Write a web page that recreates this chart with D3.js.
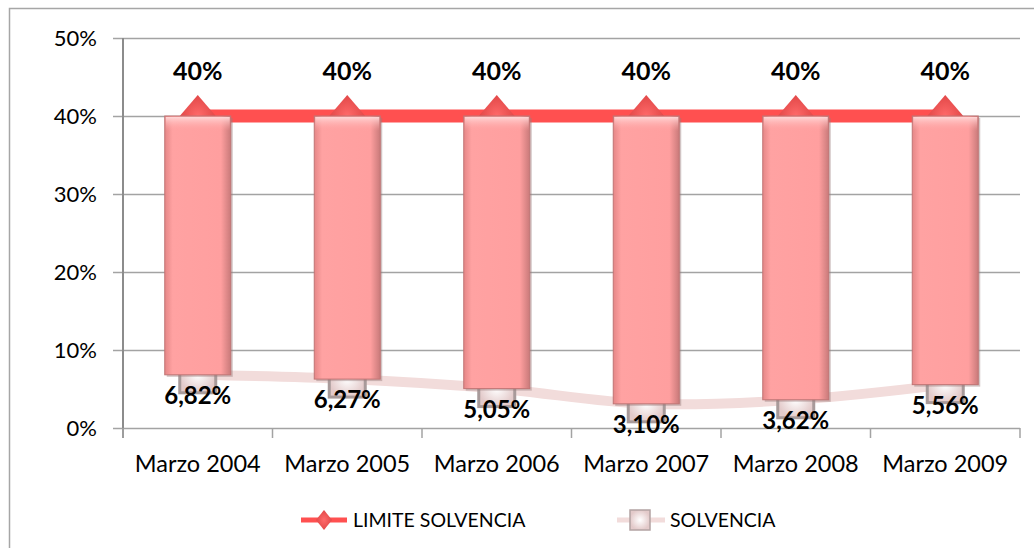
<!DOCTYPE html>
<html>
<head>
<meta charset="utf-8">
<script src="https://cdn.jsdelivr.net/npm/d3@7"></script>
<style>
  body { margin: 0; background: #fff; }
  svg text { font-family: Lato, "Open Sans", sans-serif; }
</style>
</head>
<body>
<svg id="chart" width="1034" height="548"></svg>
<script>
// data
var categories = ["Marzo 2004", "Marzo 2005", "Marzo 2006", "Marzo 2007", "Marzo 2008", "Marzo 2009"];
var limite = [0.40, 0.40, 0.40, 0.40, 0.40, 0.40];
var solvencia = [0.0682, 0.0627, 0.0505, 0.0310, 0.0362, 0.0556];
var yTicks = [0, 0.1, 0.2, 0.3, 0.4, 0.5];
var seriesNames = ["LIMITE SOLVENCIA", "SOLVENCIA"];

var svg = d3.select("svg#chart");
var locale = d3.formatLocale({decimal: ",", thousands: ".", grouping: [3], currency: ["", "€"]});
var fmt2 = locale.format(".2%"),
    fmt0 = locale.format(".0%");

// plot area
var plotLeft = 123, plotRight = 1020, plotTop = 38, plotBottom = 428;
var x = d3.scaleBand().domain(categories).range([plotLeft, plotRight]);
var y = d3.scaleLinear().domain([0, 0.5]).range([plotBottom, plotTop]);
var cx = function(d, i) { return x(categories[i]) + x.bandwidth() / 2; };
var barW = 66;

// gradients
var defs = svg.append("defs");
var gBar = defs.append("linearGradient").attr("id", "barGrad");
gBar.append("stop").attr("offset", "0%").attr("stop-color", "#e58787");
gBar.append("stop").attr("offset", "12%").attr("stop-color", "#ffa2a2");
gBar.append("stop").attr("offset", "85%").attr("stop-color", "#ff9f9f");
gBar.append("stop").attr("offset", "100%").attr("stop-color", "#c97a7a");
var gTop = defs.append("linearGradient").attr("id", "topGrad").attr("x1", 0).attr("x2", 0).attr("y1", 0).attr("y2", 1);
gTop.append("stop").attr("offset", "0%").attr("stop-color", "#ffd6d6");
gTop.append("stop").attr("offset", "100%").attr("stop-color", "#ffa2a2").attr("stop-opacity", 0);
var gSq = defs.append("radialGradient").attr("id", "sqGrad");
gSq.append("stop").attr("offset", "0%").attr("stop-color", "#ffffff");
gSq.append("stop").attr("offset", "100%").attr("stop-color", "#e3caca");
var gDia = defs.append("radialGradient").attr("id", "diaGrad");
gDia.append("stop").attr("offset", "0%").attr("stop-color", "#ff6a6a");
gDia.append("stop").attr("offset", "100%").attr("stop-color", "#e24848");

// outer frame
svg.append("rect")
  .attr("x", 9.5).attr("y", 8.5).attr("width", 1040).attr("height", 560)
  .attr("fill", "none").attr("stroke", "#a6a6a6").attr("stroke-width", 1.5);

// gridlines + y axis
var yAxis = d3.axisLeft(y).tickValues(yTicks)
  .tickSize(-(plotRight - plotLeft + 10)).tickPadding(14).tickFormat(d3.format(".0%"));
var gy = svg.append("g").attr("transform", "translate(" + (plotLeft - 10) + ",0)").call(yAxis);
gy.select(".domain").remove();
gy.selectAll(".tick line").attr("stroke", "#a3a3a3").attr("stroke-width", 1.5);
gy.selectAll(".tick text").attr("font-size", 22).attr("fill", "#000").attr("x", -16);

svg.append("line")
  .attr("x1", plotLeft).attr("x2", plotLeft).attr("y1", plotTop).attr("y2", plotBottom + 10)
  .attr("stroke", "#8c8c8c").attr("stroke-width", 2);

// x axis
var xAxis = d3.axisBottom(x).tickSize(0).tickPadding(27);
var gx = svg.append("g").attr("transform", "translate(0," + plotBottom + ")").call(xAxis);
gx.select(".domain").remove();
gx.selectAll(".tick text").attr("font-size", 23.5).attr("fill", "#000");
var bounds = categories.map(function(c) { return x(c); }).concat([plotRight]);
svg.selectAll("line.xtick").data(bounds).enter().append("line")
  .attr("class", "xtick")
  .attr("x1", function(d) { return d; }).attr("x2", function(d) { return d; })
  .attr("y1", plotBottom).attr("y2", plotBottom + 10)
  .attr("stroke", "#a3a3a3").attr("stroke-width", 1.5);

// solvencia line (smooth)
var lineS = d3.line().x(cx).y(function(d) { return y(d); }).curve(d3.curveCatmullRom);
svg.append("path").datum(solvencia).attr("d", lineS)
  .attr("fill", "none").attr("stroke", "#f2dcdb").attr("stroke-width", 10);

// limite line
var lineL = d3.line().x(cx).y(function(d) { return y(d); });
svg.append("path").datum(limite).attr("d", lineL)
  .attr("fill", "none").attr("stroke", "#ff5050").attr("stroke-width", 13);

// markers
svg.selectAll("rect.sq").data(solvencia).enter().append("rect")
  .attr("class", "sq")
  .attr("x", function(d, i) { return cx(d, i) - 18; })
  .attr("y", function(d) { return y(d) - 18; })
  .attr("width", 36).attr("height", 36)
  .attr("fill", "url(#sqGrad)").attr("stroke", "#a89a9a").attr("stroke-width", 3);

svg.selectAll("path.dia").data(limite).enter().append("path")
  .attr("class", "dia")
  .attr("d", function(d, i) {
    var px = cx(d, i), py = y(d);
    return "M" + px + "," + (py - 21) + "L" + (px + 18) + "," + py + "L" + px + "," + (py + 21) + "L" + (px - 18) + "," + py + "Z";
  })
  .attr("fill", "url(#diaGrad)");

// up-down bars
var bars = svg.selectAll("g.bar").data(categories).enter().append("g").attr("class", "bar");
bars.append("rect")
  .attr("x", function(d, i) { return cx(d, i) - barW / 2 + 2; })
  .attr("y", function(d, i) { return y(limite[i]) + 2; })
  .attr("width", barW).attr("height", function(d, i) { return y(solvencia[i]) - y(limite[i]); })
  .attr("fill", "#9a7d7d").attr("opacity", 0.45);
bars.append("rect")
  .attr("x", function(d, i) { return cx(d, i) - barW / 2; })
  .attr("y", function(d, i) { return y(limite[i]); })
  .attr("width", barW).attr("height", function(d, i) { return y(solvencia[i]) - y(limite[i]); })
  .attr("fill", "url(#barGrad)").attr("stroke", "#c07474").attr("stroke-width", 1);
bars.append("rect")
  .attr("x", function(d, i) { return cx(d, i) - barW / 2 + 1; })
  .attr("y", function(d, i) { return y(limite[i]) + 1; })
  .attr("width", barW - 2).attr("height", 14)
  .attr("fill", "url(#topGrad)");

// data labels
svg.selectAll("text.lab-l").data(limite).enter().append("text")
  .attr("class", "lab-l")
  .attr("x", cx).attr("y", function(d) { return y(d) - 36; })
  .attr("text-anchor", "middle").attr("font-size", 25).attr("font-weight", "bold")
  .text(function(d) { return fmt0(d); });

svg.selectAll("text.lab-s").data(solvencia).enter().append("text")
  .attr("class", "lab-s")
  .attr("x", cx).attr("y", function(d) { return y(d) + 29; })
  .attr("text-anchor", "middle").attr("font-size", 24).attr("font-weight", "bold")
  .text(function(d) { return fmt2(d); });

// legend
var legY = 520;
var leg1 = svg.append("g");
leg1.append("line").attr("x1", 301).attr("x2", 347).attr("y1", legY).attr("y2", legY)
  .attr("stroke", "#ff5050").attr("stroke-width", 5);
leg1.append("path").attr("d", "M324," + (legY - 10) + "L332," + legY + "L324," + (legY + 10) + "L316," + legY + "Z")
  .attr("fill", "url(#diaGrad)");
leg1.append("text").attr("x", 353).attr("y", legY + 7).attr("font-size", 19.5).text(seriesNames[0]);

var leg2 = svg.append("g");
leg2.append("line").attr("x1", 617).attr("x2", 665).attr("y1", legY).attr("y2", legY)
  .attr("stroke", "#f2dcdb").attr("stroke-width", 5);
leg2.append("rect").attr("x", 630).attr("y", legY - 10).attr("width", 20).attr("height", 20)
  .attr("fill", "url(#sqGrad)").attr("stroke", "#b3a3a3").attr("stroke-width", 1.5);
leg2.append("text").attr("x", 670).attr("y", legY + 7).attr("font-size", 19.5).text(seriesNames[1]);
</script>
</body>
</html>
